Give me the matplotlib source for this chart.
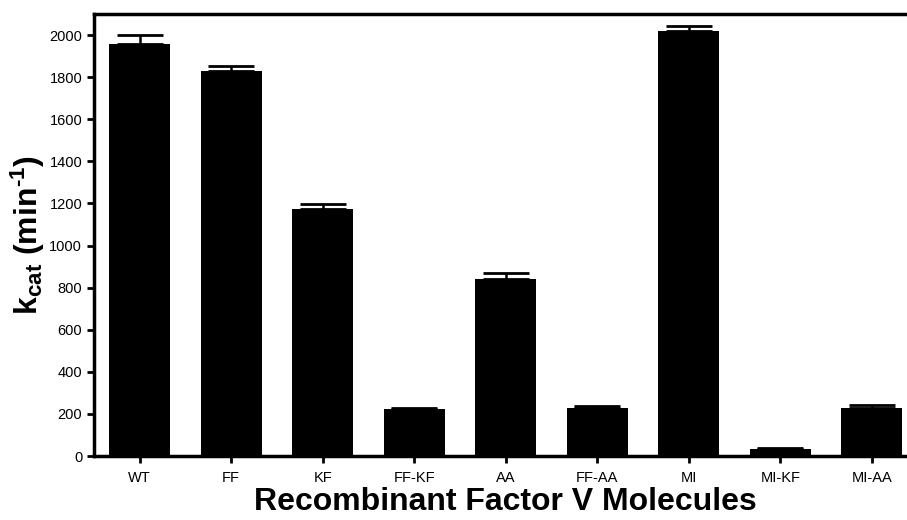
import numpy as np
import matplotlib
matplotlib.use("Agg")
import matplotlib.pyplot as plt

plt.rcParams['font.family'] = ['Liberation Sans', 'DejaVu Sans']
plt.rcParams['mathtext.fontset'] = 'custom'
plt.rcParams['mathtext.rm'] = 'Liberation Sans'
plt.rcParams['mathtext.bf'] = 'Liberation Sans:bold'
plt.rcParams['mathtext.default'] = 'bf'

molecules = ['WT', 'FF', 'KF', 'FF-KF', 'AA', 'FF-AA', 'MI', 'MI-KF', 'MI-AA']
kcat = [1960, 1829, 1172, 222, 839, 226, 2019, 32, 226]
kcat_err = [40, 24, 24, 7, 29, 10, 24, 7, 15]
yticks = [0, 200, 400, 600, 800, 1000, 1200, 1400, 1600, 1800, 2000]

fig = plt.figure(figsize=(9.07, 5.2), dpi=100)
ax = fig.add_axes([0.1036, 0.123, 0.908, 0.850])

x = np.arange(len(molecules))
ax.bar(x, kcat, width=0.667, color='black', zorder=2)
ax.errorbar(x, kcat, yerr=[np.zeros(len(kcat)), kcat_err], fmt='none',
            ecolor='black', elinewidth=1.8, capsize=16.5, capthick=2, zorder=3)

ax.set_xlim(-0.5, 8.5)
ax.set_ylim(0, 2100)
ax.set_xticks(x)
ax.set_xticklabels(molecules, fontsize=10.5)
ax.set_yticks(yticks)
ax.tick_params(axis='y', labelsize=10.5, direction='out', length=5, width=2)
ax.tick_params(axis='x', direction='out', length=5, width=2, pad=6)

for side in ['left', 'bottom', 'top', 'right']:
    ax.spines[side].set_linewidth(2.5)

ax.set_xlabel('Recombinant Factor V Molecules', fontsize=23, fontweight='bold', labelpad=1)
# hyphen instead of the mathtext minus sign in the exponent
ax.set_ylabel('k$_{cat}$ (min$^{\u20101}$)', fontsize=23, fontweight='bold', labelpad=2)

fig.savefig('out.png', dpi=100)
